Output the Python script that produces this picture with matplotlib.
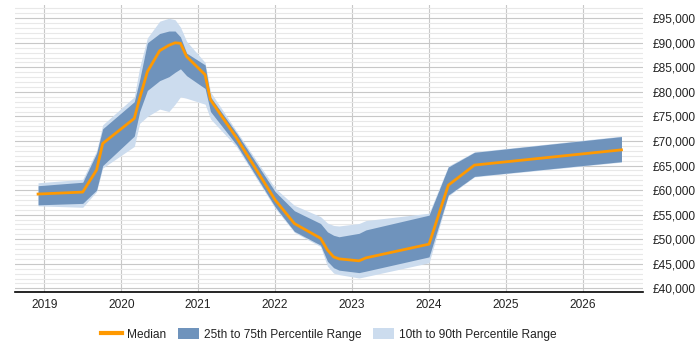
import matplotlib
matplotlib.use("Agg")
import matplotlib.pyplot as plt
from matplotlib.patches import Patch
from matplotlib.lines import Line2D
from matplotlib.ticker import FuncFormatter, MultipleLocator

plt.rcParams['font.family'] = ['Liberation Sans', 'DejaVu Sans']

years = [2018.92, 2019.50, 2019.68, 2019.76, 2020.17, 2020.24, 2020.34, 2020.50, 2020.62,
         2020.70, 2020.77, 2020.85, 2021.09, 2021.16, 2021.50, 2022.00, 2022.25, 2022.59,
         2022.68, 2022.76, 2022.83, 2023.09, 2023.18, 2024.00, 2024.25, 2024.59, 2026.50]

median = [59200, 59600, 64100, 69500, 74600, 78700, 84100, 88400, 89500,
          90000, 89900, 87200, 83500, 78400, 70600, 58000, 53200, 50200,
          47800, 46400, 46000, 45600, 46200, 49000, 61000, 65100, 68200]

p75 = [60900, 61600, 67500, 72500, 78000, 82500, 90000, 91900, 92400,
       92400, 91200, 87900, 85500, 79000, 71600, 59700, 55800, 53200,
       51500, 50800, 50500, 51200, 51900, 54900, 64700, 67700, 70900]

p25 = [57000, 57300, 60000, 65000, 71000, 76000, 80300, 82300, 83100,
       84000, 84700, 83300, 80700, 76000, 69200, 56600, 51600, 48800,
       45500, 44200, 43700, 43200, 43500, 46400, 59000, 62800, 65800]

p90 = [61500, 62200, 68000, 73300, 79000, 85000, 91000, 94400, 95000,
       94700, 93200, 90300, 86000, 80000, 72000, 60400, 56900, 54600,
       53300, 52800, 52700, 53200, 53800, 55300, 64900, 67800, 71000]

p10 = [56800, 56500, 59700, 64500, 68900, 73600, 75000, 76500, 76000,
       77500, 79000, 78700, 77500, 74500, 68800, 56300, 51400, 48500,
       44500, 43100, 42800, 42100, 42400, 45200, 58800, 62700, 65700]

year_ticks = [2019, 2020, 2021, 2022, 2023, 2024, 2025, 2026]
value_ticks = list(range(40000, 95001, 5000))

fig = plt.figure(figsize=(7, 3.5), dpi=100)
ax = fig.add_axes([0.0214, 0.165, 0.8972, 0.8207])

light = "#ccdcee"
dark = "#6f93bc"
orange = "#ff9900"

ax.fill_between(years, p10, p90, color=light, linewidth=0, zorder=2)
ax.fill_between(years, p25, p75, color=dark, linewidth=0, zorder=3)
ax.plot(years, median, color=orange, linewidth=2, zorder=4)

ax.set_xlim(2018.62, 2026.78)
ax.set_ylim(39200, 97700)

ax.yaxis.tick_right()
ax.set_yticks(value_ticks)
ax.yaxis.set_minor_locator(MultipleLocator(1000))
ax.yaxis.set_major_formatter(FuncFormatter(lambda v, p: "£{:,.0f}".format(v)))
ax.set_xticks(year_ticks)
ax.set_xticklabels([str(y) for y in year_ticks])

ax.grid(True, which="major", axis="both", color="#c8c8c8", linewidth=0.8, zorder=0)
ax.grid(True, which="minor", axis="y", color="#e8e8e8", linewidth=0.8, zorder=0)
ax.set_axisbelow(True)

for s in ["top", "left", "right"]:
    ax.spines[s].set_visible(False)
ax.spines["bottom"].set_color("black")
ax.spines["bottom"].set_linewidth(1.2)

ax.tick_params(axis="both", which="both", length=0, labelsize=8.6, colors="#222222")
ax.tick_params(axis="y", pad=7)
ax.tick_params(axis="x", pad=5)

handles = [
    Line2D([0], [0], color=orange, linewidth=3),
    Patch(facecolor=dark, edgecolor="none"),
    Patch(facecolor=light, edgecolor="none"),
]
labels = ["Median", "25th to 75th Percentile Range", "10th to 90th Percentile Range"]
fig.legend(handles, labels, loc="center", bbox_to_anchor=(0.47, 0.045), ncol=3,
           frameon=False, fontsize=8.6, handlelength=1.75, handleheight=1.05,
           columnspacing=0.95, handletextpad=0.45, labelcolor="#222222")

fig.savefig("out.png", dpi=100)
